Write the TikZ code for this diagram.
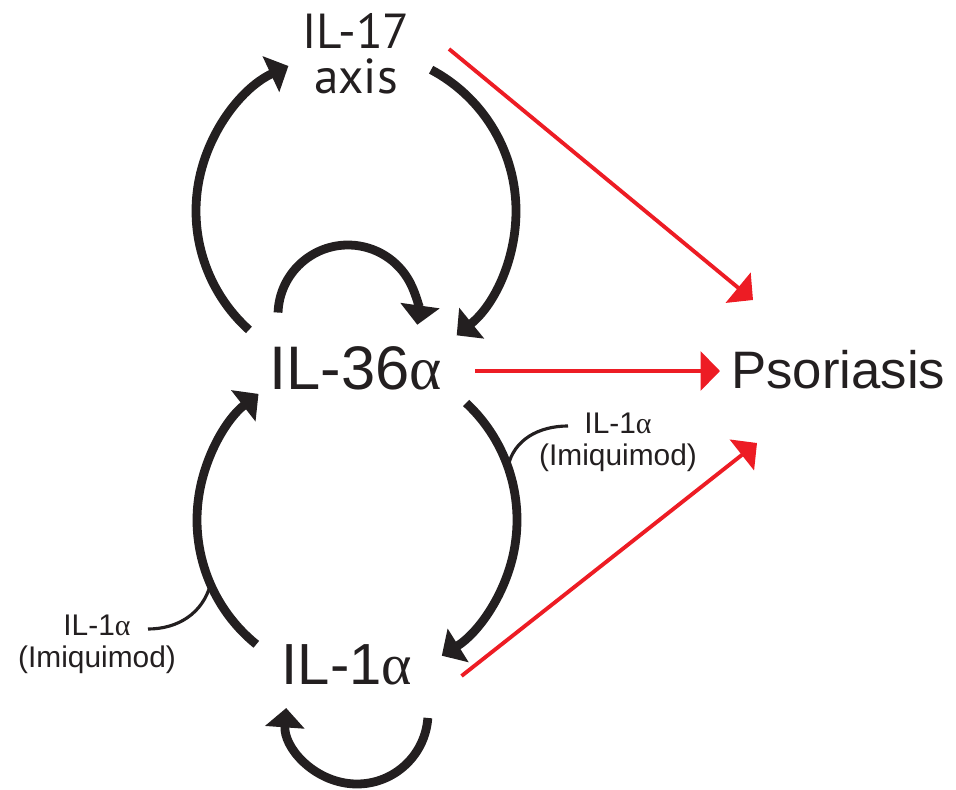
\documentclass[tikz,border=0pt]{standalone}
\usepackage{fontspec}
\setmainfont{Liberation Sans}
\newfontfamily\axisfont{PT Sans}
\newfontfamily\greekfont{Liberation Serif}
\usetikzlibrary{arrows.meta}
\definecolor{ink}{RGB}{35,31,32}
\definecolor{psored}{RGB}{237,28,36}
\newcommand{\alf}{{\greekfont α}}

\begin{document}
\begin{tikzpicture}[
    loop arrow/.style={draw=ink, line width=5pt, -{Triangle[length=11pt,width=22pt]}},
    red arrow/.style={draw=psored, line width=2.2pt, -{Triangle[length=11pt,width=22pt]}},
    note line/.style={draw=ink, line width=1.8pt},
    big label/.style={inner sep=0pt, text=ink},
    small label/.style={inner sep=0pt, text=ink, align=center, font=\fontsize{17}{18.2}\selectfont}
  ]
  \useasboundingbox (0,0) rectangle (19.12,-15.8);

  % cytokines
  \node[big label, anchor=north, align=center, font=\axisfont\fontsize{28}{25.5}\selectfont]
    (il17) at (7.12,-0.26) {IL-17\\axis};
  \node[big label, anchor=base west, font=\fontsize{35}{40}\selectfont]
    (il36) at (5.38,-7.78) {IL-36\alf};
  \node[big label, anchor=base west, font=\fontsize{33}{38}\selectfont]
    (il1) at (5.63,-13.68) {IL-1\alf};
  \node[big label, anchor=base west, font=\fontsize{30}{36}\selectfont]
    (pso) at (14.62,-7.76) {Psoriasis};

  % annotations
  \node[small label, anchor=north] (note r) at (12.36,-8.26) {IL-1\alf\\(Imiquimod)};
  \node[small label, anchor=north] (note l) at (1.94,-12.3) {IL-1\alf\\(Imiquimod)};

  % arc centres and free ends
  \coordinate (up) at (7.12,-4.22);
  \coordinate (low) at (7.14,-10.4);
  \coordinate (self36) at (6.96,-6.3);
  \coordinate (self1) at (7.14,-14.26);
  \coordinate (pso top) at (15.06,-6.0);
  \coordinate (pso mid) at (14.4,-7.42);
  \coordinate (pso bot) at (15.14,-8.86);
  \coordinate (tag r) at (11.36,-8.52);
  \coordinate (tag l) at (2.96,-12.58);
  \coordinate (hit r) at ([shift={(19.4:3.2)}]low);
  \coordinate (hit l) at ([shift={(203.7:3.2)}]low);

  % feedback loops
  \draw[loop arrow] (up) ++(228:3.2) arc[start angle=228, end angle=115, radius=3.2];
  \draw[loop arrow] (up) ++(62:3.2) arc[start angle=62, end angle=-51, radius=3.2];
  \draw[loop arrow] (self36) ++(178:1.4) arc[start angle=178, end angle=-8, radius=1.4];
  \draw[loop arrow] (low) ++(231:3.2) arc[start angle=231, end angle=128, radius=3.2];
  \draw[loop arrow] (low) ++(47:3.2) arc[start angle=47, end angle=-58, radius=3.2];
  \draw[loop arrow] (self1) ++(-4:1.42) arc[start angle=-4, end angle=-184, radius=1.42];

  % to psoriasis
  \draw[red arrow] ([shift={(1.86,-0.72)}]il17.north) -- (pso top);
  \draw[red arrow] ([xshift=0.66cm]il36.east |- pso mid) -- (pso mid);
  \draw[red arrow] ([shift={(0.98,0.16)}]il1.base east) -- (pso bot);

  % labels on the loops
  \draw[note line] (tag r) to[out=180, in=78] (hit r);
  \draw[note line] (tag l) to[out=0, in=-105] (hit l);
\end{tikzpicture}
\end{document}
